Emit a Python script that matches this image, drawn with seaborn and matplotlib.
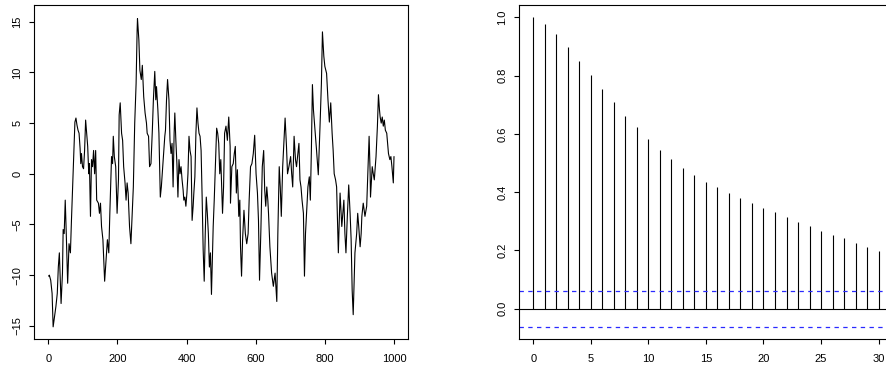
import numpy as np
import pandas as pd
import matplotlib
matplotlib.use("Agg")
import matplotlib.pyplot as plt
import seaborn as sns

# ---- data: time series (turning points) ----
t_index = [1, 3, 7, 11, 14, 18, 22, 26, 29, 32, 37, 41, 43, 46, 49, 52, 56, 60, 64, 67,
           77, 80, 83, 86, 89, 92, 94, 96, 99, 102, 105, 108, 111, 114, 117, 119, 122, 125, 128, 131, 134, 137, 140,
           145, 148, 151, 154, 158, 163, 167, 171, 175, 178, 183, 186, 188, 191, 195, 199, 203, 205, 208, 212, 215,
           218, 222, 225, 228, 231, 235, 239, 242, 246, 250, 254, 257, 258, 262, 265, 269, 272, 276, 280, 284, 286,
           290, 293, 297, 301, 304, 308, 311, 313, 317, 320, 324, 327, 331, 334, 337, 339, 342, 345, 349, 352, 355,
           358, 361, 364, 366, 369, 372, 375, 378, 381, 384, 387, 390, 392, 395, 398, 401, 404, 407, 410, 413, 416,
           419, 421, 424, 427, 430, 433, 436, 439, 442, 445, 448, 451, 454, 457, 460, 463, 466, 469, 472, 474, 477,
           480, 483, 487, 490, 493, 496, 499, 501, 504, 507, 510, 514, 518, 522, 526, 527, 531, 535, 538, 541, 544,
           547, 551, 554, 556, 559, 562, 566, 570, 574, 578, 581, 585, 589, 593, 597, 601, 605, 608, 611, 615, 619,
           623, 626, 629, 632, 635, 637, 641, 646, 651, 656, 661, 664, 668, 671, 674, 678, 681, 685, 689, 692, 696,
           701, 704, 707, 711, 715, 718, 721, 725, 728, 731, 734, 738, 741, 744, 747, 751, 755, 758, 761, 764, 767,
           770, 772, 776, 781, 784, 786, 790, 793, 797, 800, 805, 809, 813, 817, 821, 824, 827, 831, 834, 839, 844,
           849, 852, 855, 858, 861, 865, 869, 873, 876, 879, 882, 887, 892, 895, 898, 902, 905, 907, 911, 916, 921,
           925, 928, 931, 932, 937, 940, 943, 948, 952, 955, 958, 960, 963, 966, 969, 972, 975, 979, 984, 988, 991,
           994, 998, 1000]
t_value = [-10.1, -10.0, -10.5, -11.8, -15.1, -14.1, -13.1, -11.8, -9.2, -7.8, -12.8, -9.8, -5.5, -5.9, -2.6, -5.9,
           -10.8, -6.9, -7.8, -4.6,
           5.1, 5.5, 4.8, 4.3, 4.0, 2.5, 1.0, 2.0, 0.7, 0.5, 2.3, 5.3, 4.0, 2.7, 0.0, 1.0, -4.2, 1.4, 0.7, 2.3, 0.0,
           2.3, -2.6,
           -2.9, -3.9, -2.9, -5.2, -6.5, -10.6, -8.5, -6.5, -7.8, -3.9, 1.7, 1.0, 3.7, 1.7, 0.7, -3.9, -0.6, 5.8, 7.0,
           4.0, 3.3, 0.7, -0.9, -2.6, -0.9, -1.9, -5.2, -6.9, -4.6, -1.3, 5.0, 8.9, 14.2, 15.3, 13.2, 10.2, 9.3, 10.7,
           7.6, 6.0, 5.0, 4.0, 3.7, 0.7, 1.0, 4.3, 7.3, 10.1, 7.3, 8.6, 6.3, 4.0, -2.3, -1.3, 0.7, 2.3, 3.7, 4.3, 7.3,
           9.3, 7.3, 3.3, 2.0, 3.0, -1.3, 4.0, 6.0, 3.3, 1.0, -2.3, 1.4, 0.0, 0.7, -0.6, -1.6, -2.6, -2.3, -3.2, -1.9,
           0.0, 3.7, 2.3, 1.7, -4.6, -3.2, -1.9, -0.3, 4.0, 6.5, 5.0, 4.0, 3.7, 2.3, -2.3, -7.5, -10.6, -5.9, -2.3,
           -3.9, -5.9, -9.2, -7.8, -11.9, -9.2, -5.2, -2.6, 0.4, 4.5, 4.0, 3.0, 0.0, 1.4, -0.6, -3.9, -1.3, 4.0, 4.7,
           3.3, 5.6, 2.7, -2.9, 0.7, 1.0, 2.0, 2.7, -1.9, 0.4, -4.2, -2.6, -7.2, -10.1, -6.5, -3.6, -5.9, -6.9, -5.9,
           -2.6, 0.7, 1.0, 2.0, 3.8, 0.0, -1.9, -4.6, -10.5, -5.5, 0.7, 2.3, -1.6, -3.2, -1.3, -2.6, -3.9, -7.2, -9.8,
           -11.1, -9.8, -12.6, -5.9, 0.7, -1.3, -4.2, 0.7, 2.7, 5.5, 2.7, 0.0, 0.7, 1.7, 0.0, -1.3, 3.7, 1.4, 0.7,
           1.7, 3.0, -0.6, -1.3, -2.6, -3.9, -10.1, -5.9, -3.9, -1.3, -0.3, -2.6, 2.3, 8.8, 6.3, 5.0, 4.0, 2.3, -0.1,
           2.7, 4.7, 8.9, 14.0, 11.6, 10.6, 9.9, 7.3, 5.1, 7.0, 4.0, 2.3, 0.0, -0.6, -1.3, -7.8, -1.9, -5.2, -3.9,
           -2.6, -5.9, -7.8, -4.2, -1.1, -3.9, -6.5, -11.5, -13.9, -7.8, -5.9, -3.9, -5.2, -7.2, -5.9, -4.2, -2.9,
           -4.2, -3.2, 0.7, 3.7, 0.0, -2.3, 0.7, 0.0, -0.6, 1.7, 4.7, 7.8, 6.3, 5.6, 5.0, 5.6, 4.7, 5.3, 4.3, 4.0,
           2.0, 1.4, 1.7, 0.7, -0.9, 1.7]

# ---- data: autocorrelation ----
acf_lag = list(range(31))
acf_value = [1.000, 0.979, 0.943, 0.897, 0.851, 0.803, 0.754, 0.708, 0.663, 0.622, 0.582,
             0.546, 0.512, 0.483, 0.458, 0.435, 0.416, 0.396, 0.379, 0.363, 0.347,
             0.330, 0.314, 0.298, 0.282, 0.268, 0.254, 0.241, 0.225, 0.211, 0.197]
ci_bound = 0.062

ts_ticks = [0, 200, 400, 600, 800, 1000]
ts_yticks = [-15, -10, -5, 0, 5, 10, 15]
acf_xticks = [0, 5, 10, 15, 20, 25, 30]
acf_yticks = [0.0, 0.2, 0.4, 0.6, 0.8, 1.0]

sns.set_style("white")
plt.rcParams["font.family"] = ["Liberation Sans", "DejaVu Sans"]

ts_df = pd.DataFrame({"t": t_index, "value": t_value})

fig = plt.figure(figsize=(8.86, 3.69), dpi=100)
ax1 = fig.add_axes([0.0387, 0.0813, 0.4218, 0.9051])
ax2 = fig.add_axes([0.5862, 0.0813, 0.4211, 0.9051])

sns.lineplot(data=ts_df, x="t", y="value", ax=ax1, color="black", linewidth=0.8,
             estimator=None, sort=False)
ax1.set_xlim(-40.5, 1040.5)
ax1.set_ylim(-16.3, 16.65)
ax1.set_xticks(ts_ticks)
ax1.set_xticklabels([str(v) for v in ts_ticks])
ax1.set_yticks(ts_yticks)
ax1.set_yticklabels([str(v).replace("-", "\u2212") for v in ts_yticks])

ax2.vlines(acf_lag, 0, acf_value, color="black", linewidth=0.8)
ax2.axhline(0, color="black", linewidth=0.8)
for b in (ci_bound, -ci_bound):
    ax2.axhline(b, color="#2a2aff", linewidth=0.9, linestyle=(0, (3.5, 3.5)))
ax2.set_xlim(-1.2, 31.2)
ax2.set_ylim(-0.1045, 1.0425)
ax2.set_xticks(acf_xticks)
ax2.set_xticklabels([str(v) for v in acf_xticks])
ax2.set_yticks(acf_yticks)
ax2.set_yticklabels([f"{v:.1f}" for v in acf_yticks])

for ax in (ax1, ax2):
    ax.set_xlabel("")
    ax.set_ylabel("")
    for s in ax.spines.values():
        s.set_visible(True)
        s.set_color("black")
        s.set_linewidth(0.8)
    ax.tick_params(axis="both", which="major", bottom=True, left=True, top=False, right=False,
                   direction="out", length=3.6, width=0.8, color="black",
                   labelsize=8, labelcolor="black")
    ax.tick_params(axis="x", pad=7)
    ax.tick_params(axis="y", pad=5, labelrotation=90)
    for lab in ax.get_yticklabels():
        lab.set_verticalalignment("center")

fig.savefig("out.png", dpi=100)
